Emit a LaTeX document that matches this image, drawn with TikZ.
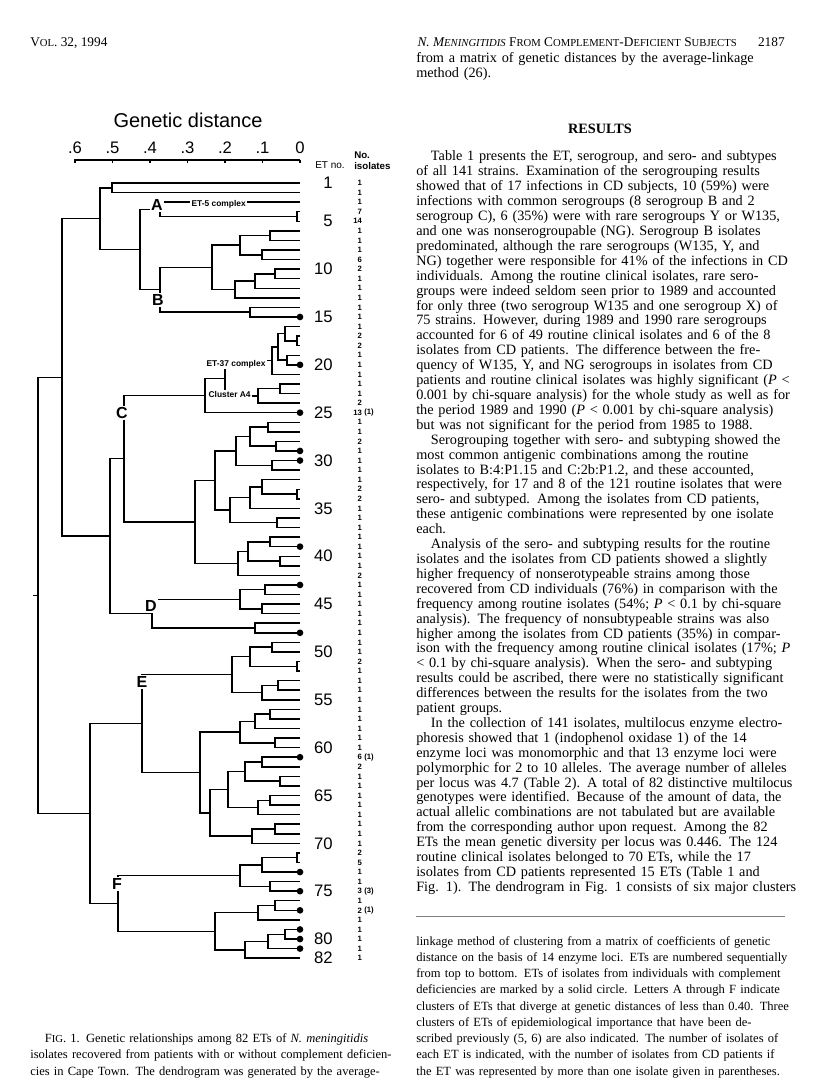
\documentclass[tikz,border=0pt]{standalone}
\usepackage{fontspec}
\setmainfont{Liberation Serif}
\newfontfamily\figsans{Liberation Sans}
\usetikzlibrary{positioning, calc}

\def\colw{276.75pt}
\newcommand\jline[1]{\hbox to \colw{#1}\par}
\newcommand\eline[1]{\hbox{#1}\par}
\newcommand\smc[1]{{\fontsize{8}{8}\selectfont #1}}
\newcommand\leafy[1]{183+(#1-1)*9.57}
\def\isocounts{1,1,1,7,14,1,1,1,6,2,1,1,1,1,1,1,2,2,1,1,1,1,1,2,13,1,1,2,1,1,1,1,2,2,1,1,1,1,1,1,1,2,1,1,1,1,1,1,1,1,2,1,1,1,1,1,1,1,1,1,6,2,1,1,1,1,1,1,1,1,2,5,1,1,3,1,2,1,1,1,1,1}

\begin{document}
\begin{tikzpicture}[x=0.75pt, y=-0.75pt,
    treeline/.style={black, line width=1.1pt},
    cddot/.style={circle, fill=black, inner sep=0pt, minimum size=5pt},
    etnum/.style={anchor=east, inner sep=0pt, font=\figsans\fontsize{12.5}{12.5}\selectfont},
    isonum/.style={anchor=west, inner sep=0pt, font=\figsans\bfseries\fontsize{5.8}{6}\selectfont},
    axisnum/.style={anchor=base, inner sep=0pt, font=\figsans\fontsize{12.5}{12.5}\selectfont},
    clusterlet/.style={inner sep=1pt, fill=white, font=\figsans\bfseries\fontsize{12}{12}\selectfont},
    complexlab/.style={anchor=west, inner sep=1pt, fill=white, font=\figsans\bfseries\fontsize{6.3}{6.3}\selectfont},
    bodytext/.style={anchor=base west, inner sep=0pt, text width=\colw, font=\fontsize{10.7}{11.18}\selectfont},
    captext/.style={anchor=base west, inner sep=0pt, text width=\colw, font=\fontsize{9.4}{12.2}\selectfont}
]
\useasboundingbox (0,0) rectangle (816,1087);

% running head
\node[anchor=base west, inner sep=0pt, font=\fontsize{10}{10}\selectfont] (volno) at (30,47)
    {V\smc{OL}. 32, 1994};
\node[anchor=base east, inner sep=0pt, font=\fontsize{10}{10}\selectfont] (runtitle) at (737,47)
    {\textit{N. M\smc{ENINGITIDIS}} F\smc{ROM} C\smc{OMPLEMENT}-D\smc{EFICIENT} S\smc{UBJECTS}};
\node[anchor=base east, inner sep=0pt, font=\fontsize{10}{10}\selectfont] (pageno) at (785,47) {2187};

% axis
\node[font=\figsans\fontsize{15}{15}\selectfont, inner sep=0pt] (gdtitle) at (188,120) {Genetic distance};
\draw[black, line width=1pt] (74,160) -- (300,160);
\foreach \d [count=\k from 0] in {0,.1,.2,.3,.4,.5,.6}
{
    \draw[black, line width=1pt] ({300-\k*37.5},160) -- ({300-\k*37.5},163);
    \node[axisnum] (ax\k) at ({300-\k*37.5},154) {\d};
}
\node[anchor=west, inner sep=0pt, font=\figsans\fontsize{7.5}{7.5}\selectfont] (etno) at (315,165) {ET no.};
\node[anchor=west, inner sep=0pt, align=left, font=\figsans\bfseries\fontsize{7.3}{8}\selectfont] (nohead) at (354,161) {No.\\isolates};

% leaves
\foreach \i in {1,...,82}
{
    \coordinate (L\i) at (300, {\leafy{\i}});
}

% dendrogram: node/x/upper/lower
\foreach \n/\x/\a/\b in {
    p12/112/L1/L2, p45/297/L4/L5, nA/160/L3/p45,
    b67/270/L6/L7, b89/262/L8/L9, b69/240/b67/b89,
    b1011/275/L10/L11, b1012/255/b1011/L12, b1013/235/b1012/L13,
    b614/212/b69/b1013, b1415/250/L14/L15, nB/160/b614/b1415,
    AB/140/nA/nB, X1/100/p12/AB,
    c1718/297/L17/L18, c1618/285/L16/c1718, c1920/287/L19/L20,
    c1620/278/c1618/c1920, c21/272/c1620/L21,
    c2223/280/L22/L23, cA4/258/c2223/L24,
    c3724/225/c21/cA4, c3725/205/c3724/L25,
    c2627/268/L26/L27, c2829/276/L28/L29, c2629/250/c2627/c2829,
    c3031/272/L30/L31, c2631/236/c2629/c3031,
    c3334/297/L33/L34, c3234/262/L32/c3334, c3235/250/c3234/L35,
    c3637/277/L36/L37, c3237/230/c3235/c3637, c2637/215/c2631/c3237,
    c3839/270/L38/L39, c4041/280/L40/L41, c3841/248/c3839/c4041,
    c3842/238/c3841/L42, c2642/195/c2637/c3842, nC/124/c3725/c2642,
    d4344/265/L43/L44, d4546/262/L45/L46, d4346/240/d4344/d4546,
    d4748/255/L47/L48, nD/152/d4346/d4748,
    CD/110/nC/nD, U/62/X1/CD,
    e4950/272/L49/L50, e5152/297/L51/L52, e4952/250/e4950/e5152,
    e5354/278/L53/L54, e5355/262/e5354/L55, e4955/232/e4952/e5355,
    e5657/270/L56/L57, e5658/255/e5657/L58, e5960/275/L59/L60,
    e5660/240/e5658/e5960,
    e6162/262/L61/L62, e6364/280/L63/L64, e6164/245/e6162/e6364,
    e6566/270/L65/L66, e6567/258/e6566/L67, e6167/228/e6164/e6567,
    e6869/275/L68/L69, e6870/252/e6869/L70, e6170/210/e6167/e6870,
    e5670/200/e5660/e6170, nE/142/e4955/e5670,
    f7172/297/L71/L72, f7173/262/f7172/L73, f7475/270/L74/L75,
    f7175/240/f7173/f7475, f7677/275/L76/L77, f7678/258/f7677/L78,
    f7980/285/L79/L80, f7981/268/f7980/L81, f7982/245/f7981/L82,
    f7682/215/f7678/f7982, nF/118/f7175/f7682,
    EF/90/nE/nF, R/38/U/EF}
{
    \coordinate (m) at ($(\a)!0.5!(\b)$);
    \coordinate (\n) at (m -| \x,0);
    \draw[treeline] (\a) -- (\a -| \n) -- (\b -| \n) -- (\b);
}
\draw[treeline] (R) -- ++(-5,0);

% isolates
\foreach \n [count=\i] in \isocounts
{
    \node[isonum] (c\i) at (361, {\leafy{\i}}) {\llap{\n}};
}
\foreach \i/\p in {25/1, 61/1, 75/3, 77/1}
{
    \node[isonum] (p\i) at (364, {\leafy{\i}}) {(\p)};
}

% complement deficient
\foreach \i in {15,20,25,29,30,39,43,48,61,73,75,77,79,80,81}
{
    \node[cddot] (d\i) at (L\i) {};
}

% ET numbers
\foreach \i in {1,5,10,15,...,80,82}
{
    \node[etnum] (e\i) at (333, {\leafy{\i}}) {\i};
}

% cluster letters
\node[clusterlet] (clA) at (157,205) {A};
\node[complexlab] (cx5) at (190,204) {ET-5 complex};
\node[clusterlet] (clB) at (158,300) {B};
\node[complexlab] (cx37) at (205,364) {ET-37 complex};
\node[complexlab] (cxA4) at (207,394) {Cluster A4};
\node[clusterlet] (clC) at (122,413) {C};
\node[clusterlet] (clD) at (151,606) {D};
\node[clusterlet] (clE) at (142,682) {E};
\node[clusterlet] (clF) at (117,884) {F};

% right column text
\node[bodytext] (txt1) at (416,63) {%
\jline{from a matrix of genetic distances by the average-linkage}
\eline{method (26).}};
\node[anchor=base, inner sep=0pt, font=\bfseries\fontsize{10.7}{11}\selectfont] (results) at (600,134) {RESULTS};
\node[bodytext] (txt2) at (416,161) {%
\jline{\kern11pt Table 1 presents the ET, serogroup, and sero- and subtypes}
\jline{of all 141 strains. Examination of the serogrouping results}
\jline{showed that of 17 infections in CD subjects, 10 (59\%) were}
\jline{infections with common serogroups (8 serogroup B and 2}
\jline{serogroup C), 6 (35\%) were with rare serogroups Y or W135,}
\jline{and one was nonserogroupable (NG). Serogroup B isolates}
\jline{predominated, although the rare serogroups (W135, Y, and}
\jline{NG) together were responsible for 41\% of the infections in CD}
\jline{individuals. Among the routine clinical isolates, rare sero-}
\jline{groups were indeed seldom seen prior to 1989 and accounted}
\jline{for only three (two serogroup W135 and one serogroup X) of}
\jline{75 strains. However, during 1989 and 1990 rare serogroups}
\jline{accounted for 6 of 49 routine clinical isolates and 6 of the 8}
\jline{isolates from CD patients. The difference between the fre-}
\jline{quency of W135, Y, and NG serogroups in isolates from CD}
\jline{patients and routine clinical isolates was highly significant (\textit{P} <}
\jline{0.001 by chi-square analysis) for the whole study as well as for}
\jline{the period 1989 and 1990 (\textit{P} < 0.001 by chi-square analysis)}
\eline{but was not significant for the period from 1985 to 1988.}
\jline{\kern11pt Serogrouping together with sero- and subtyping showed the}
\jline{most common antigenic combinations among the routine}
\jline{isolates to B:4:P1.15 and C:2b:P1.2, and these accounted,}
\jline{respectively, for 17 and 8 of the 121 routine isolates that were}
\jline{sero- and subtyped. Among the isolates from CD patients,}
\jline{these antigenic combinations were represented by one isolate}
\eline{each.}
\jline{\kern11pt Analysis of the sero- and subtyping results for the routine}
\jline{isolates and the isolates from CD patients showed a slightly}
\jline{higher frequency of nonserotypeable strains among those}
\jline{recovered from CD individuals (76\%) in comparison with the}
\jline{frequency among routine isolates (54\%; \textit{P} < 0.1 by chi-square}
\jline{analysis). The frequency of nonsubtypeable strains was also}
\jline{higher among the isolates from CD patients (35\%) in compar-}
\jline{ison with the frequency among routine clinical isolates (17\%; \textit{P}}
\jline{< 0.1 by chi-square analysis). When the sero- and subtyping}
\jline{results could be ascribed, there were no statistically significant}
\jline{differences between the results for the isolates from the two}
\eline{patient groups.}
\jline{\kern11pt In the collection of 141 isolates, multilocus enzyme electro-}
\jline{phoresis showed that 1 (indophenol oxidase 1) of the 14}
\jline{enzyme loci was monomorphic and that 13 enzyme loci were}
\jline{polymorphic for 2 to 10 alleles. The average number of alleles}
\jline{per locus was 4.7 (Table 2). A total of 82 distinctive multilocus}
\jline{genotypes were identified. Because of the amount of data, the}
\jline{actual allelic combinations are not tabulated but are available}
\jline{from the corresponding author upon request. Among the 82}
\jline{ETs the mean genetic diversity per locus was 0.446. The 124}
\jline{routine clinical isolates belonged to 70 ETs, while the 17}
\jline{isolates from CD patients represented 15 ETs (Table 1 and}
\jline{Fig. 1). The dendrogram in Fig. 1 consists of six major clusters}};

% footnote rule and caption
\draw[gray, line width=0.7pt] (416,916) -- (785,916);
\node[captext] (cap2) at (416,945) {%
\jline{linkage method of clustering from a matrix of coefficients of genetic}
\jline{distance on the basis of 14 enzyme loci. ETs are numbered sequentially}
\jline{from top to bottom. ETs of isolates from individuals with complement}
\jline{deficiencies are marked by a solid circle. Letters A through F indicate}
\jline{clusters of ETs that diverge at genetic distances of less than 0.40. Three}
\jline{clusters of ETs of epidemiological importance that have been de-}
\jline{scribed previously (5, 6) are also indicated. The number of isolates of}
\jline{each ET is indicated, with the number of isolates from CD patients if}
\jline{the ET was represented by more than one isolate given in parentheses.}};
\node[captext] (cap1) at (30,1042.6) {%
\jline{\kern11pt F\smc{IG}. 1. Genetic relationships among 82 ETs of \textit{N. meningitidis}}
\jline{isolates recovered from patients with or without complement deficien-}
\jline{cies in Cape Town. The dendrogram was generated by the average-}};
\end{tikzpicture}
\end{document}
